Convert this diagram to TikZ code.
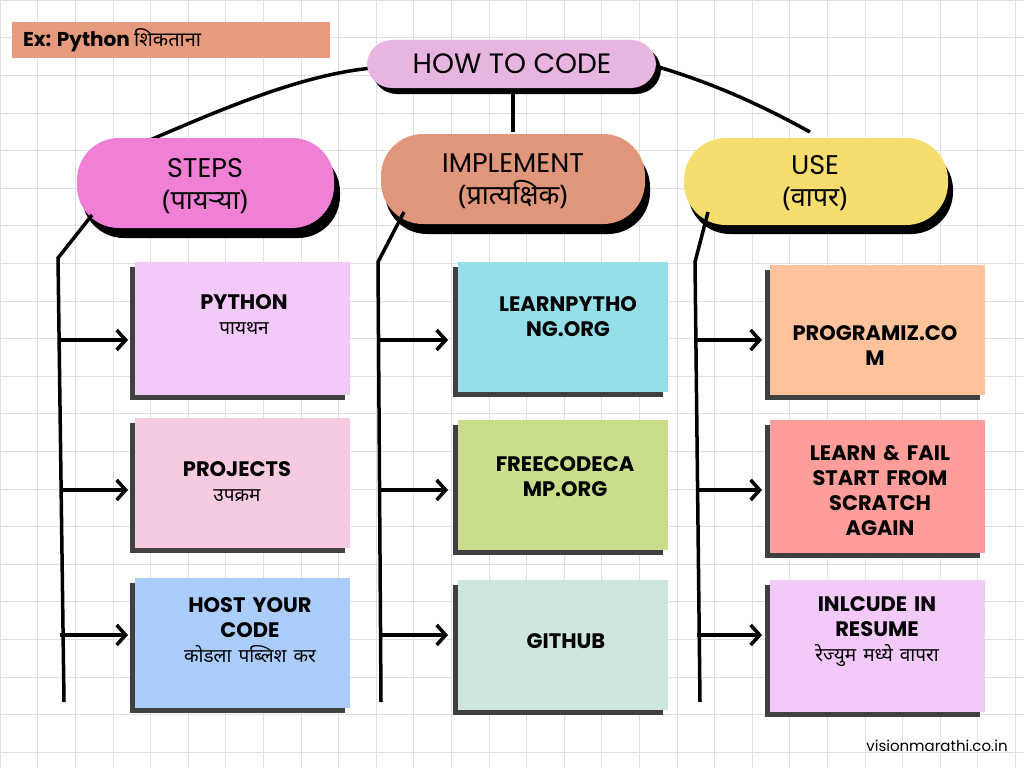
\documentclass[tikz,border=0pt]{standalone}
\usepackage{fontspec}
\setmainfont{Poppins}
\newfontfamily\deva[Script=Devanagari]{Noto Sans}
\newcommand{\dtext}{\deva\bfseries\fontsize{19}{23}\selectfont}
\usetikzlibrary{arrows.meta}
\definecolor{titlebg}{HTML}{E69B7E}
\definecolor{howbg}{HTML}{E8B4E0}
\definecolor{stepsbg}{HTML}{F07FD6}
\definecolor{implbg}{HTML}{E0967A}
\definecolor{usebg}{HTML}{F7DC6E}
\definecolor{cA}{HTML}{F2C9F9}
\definecolor{cB}{HTML}{F6CBE1}
\definecolor{cC}{HTML}{AACDFB}
\definecolor{cD}{HTML}{95DFEA}
\definecolor{cE}{HTML}{C9DE8B}
\definecolor{cF}{HTML}{CEE6DE}
\definecolor{cG}{HTML}{FEC39B}
\definecolor{cH}{HTML}{FE9D99}
\tikzset{
ctext/.style={align=center, text width=190pt, font=\bfseries\fontsize{21}{25}\selectfont},
arr/.style={-{Straight Barb[length=9pt,width=20pt,line width=3.5pt]}},
}
\begin{document}
\begin{tikzpicture}[x=1pt, y=-1pt, line width=3.5pt]
    \useasboundingbox (0,0) rectangle (1024,768);
    \fill[white] (0,0) rectangle (1024,768);
    % grid
    \foreach \g in {0,37.6,...,1024} \draw[line width=0.6pt, black!12] (\g,0) -- (\g,768);
    \foreach \g in {0,37.6,...,768} \draw[line width=0.6pt, black!12] (0,\g) -- (1024,\g);

    % title
    \fill[titlebg] (12,22) rectangle (330,58);
    \node[anchor=west, font=\bfseries\fontsize{20}{24}\selectfont] (title) at (18,40) {Ex: Python {\deva\bfseries शिकताना}};

    % top lines
    \coordinate (hl) at (372,68);
    \coordinate (hr) at (655,66);
    \draw (hl) .. controls (300,75) and (220,110) .. (150,140);
    \draw (513,88) -- (513,132);
    \draw (hr) .. controls (720,85) and (770,110) .. (810,132);

    % how to code
    \fill[black, rounded corners=25pt] (372,46) rectangle (661,94);
    \fill[howbg, rounded corners=25pt] (367,40) rectangle (656,88);
    \node[font=\fontsize{28}{32}\selectfont] (how) at (512,64) {HOW TO CODE};

    % column pills with shadows
    \fill[black, rounded corners=42pt] (82,150) rectangle (340,238);
    \fill[stepsbg, rounded corners=42pt] (77,138) rectangle (334,228);
    \fill[black, rounded corners=42pt] (385,145) rectangle (650,234);
    \fill[implbg, rounded corners=42pt] (381,134) rectangle (645,224);
    \fill[black, rounded corners=42pt] (688,148) rectangle (953,234);
    \fill[usebg, rounded corners=42pt] (684,138) rectangle (948,225);
    \node[align=center, font=\fontsize{27}{32}\selectfont] (steps) at (205,186) {STEPS\\{\deva (पायऱ्या)}};
    \node[align=center, font=\fontsize{27}{32}\selectfont] (impl) at (513,181) {IMPLEMENT\\{\deva (प्रात्यक्षिक)}};
    \node[align=center, font=\fontsize{27}{32}\selectfont] (use) at (815,183) {USE\\{\deva (वापर)}};

    % vertical rails
    \draw (92,215) -- (58,258) -- (64,702);
    \draw (404,212) -- (378,262) -- (381,702);
    \draw (708,212) -- (695,262) -- (700,702);

    % cards
    \foreach \x/\y/\w/\h/\c in {135/262/215/133/cA, 135/418/215/130/cB, 135/578/215/130/cC,
        458/262/210/130/cD, 458/420/210/130/cE, 458/580/210/130/cF,
        770/265/215/130/cG, 770/420/215/133/cH, 770/580/215/132/cA}{
        \fill[black!75] (\x-5,\y+5) rectangle ++(\w,\h);
        \fill[\c] (\x,\y) rectangle ++(\w,\h);
    }

    % card texts
    \node[ctext] (p1) at (244,315) {PYTHON\\{\dtext पायथन}};
    \node[ctext] (p2) at (237,482) {PROJECTS\\{\dtext उपक्रम}};
    \node[ctext] (p3) at (250,630) {HOST YOUR\\CODE\\{\dtext कोडला पब्लिश कर}};
    \node[ctext] (m1) at (568,317) {LEARNPYTHO\\NG.ORG};
    \node[ctext] (m2) at (565,477) {FREECODECA\\MP.ORG};
    \node[ctext] (m3) at (566,641) {GITHUB};
    \node[ctext] (r1) at (875,346) {PROGRAMIZ.CO\\M};
    \node[ctext] (r2) at (880,491) {LEARN \& FAIL\\START FROM\\SCRATCH\\AGAIN};
    \node[ctext] (r3) at (877,632) {INLCUDE IN\\RESUME\\{\dtext रेज्युम मध्ये वापरा}};

    % arrows
    \foreach \x/\e in {60/128, 380/448, 697/762}
      \foreach \y in {340,490,635}
        \draw[arr] (\x,\y) -- (\e,\y);

    % footer
    \node[font=\fontsize{15}{18}\selectfont] (site) at (937,746) {visionmarathi.co.in};
\end{tikzpicture}
\end{document}
